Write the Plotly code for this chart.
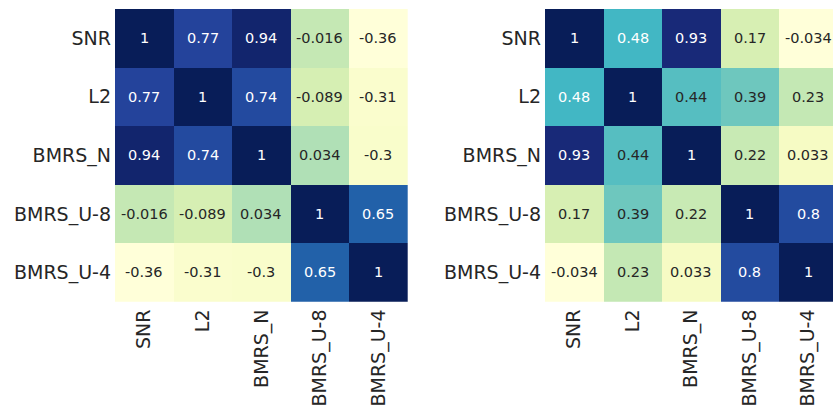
import plotly.graph_objects as go

labels = ["SNR", "L2", "BMRS_N", "BMRS_U-8", "BMRS_U-4"]

left_values = [
    [1, 0.77, 0.94, -0.016, -0.36],
    [0.77, 1, 0.74, -0.089, -0.31],
    [0.94, 0.74, 1, 0.034, -0.3],
    [-0.016, -0.089, 0.034, 1, 0.65],
    [-0.36, -0.31, -0.3, 0.65, 1],
]
right_values = [
    [1, 0.48, 0.93, 0.17, -0.034],
    [0.48, 1, 0.44, 0.39, 0.23],
    [0.93, 0.44, 1, 0.22, 0.033],
    [0.17, 0.39, 0.22, 1, 0.8],
    [-0.034, 0.23, 0.033, 0.8, 1],
]

ylgnbu = ["#ffffd9", "#edf8b1", "#c7e9b4", "#7fcdbb", "#41b6c4",
          "#1d91c0", "#225ea8", "#253494", "#081d58"]
colorscale = [[i / 8, c] for i, c in enumerate(ylgnbu)]


def hex2rgb(h):
    return tuple(int(h[i:i + 2], 16) for i in (1, 3, 5))


def color_at(t):
    t = min(max(t, 0), 1) * 8
    i = min(int(t), 7)
    f = t - i
    a, b = hex2rgb(ylgnbu[i]), hex2rgb(ylgnbu[i + 1])
    return [a[k] + (b[k] - a[k]) * f for k in range(3)]


def lum(rgb):
    out = []
    for c in rgb:
        c = c / 255
        out.append(c / 12.92 if c <= 0.03928 else ((c + 0.055) / 1.055) ** 2.4)
    return 0.2126 * out[0] + 0.7152 * out[1] + 0.0722 * out[2]


def fmt(v):
    return "{:.2g}".format(v)


fig = go.Figure()
annotations = []
W, H = 833, 407
top = 9
bottom = 301.7
panels = [
    (left_values, "x", "y", 115, 407.7, 4.5),
    (right_values, "x2", "y2", 545, 833, 4.5 - (837.5 - 833) / 58.5),
]
for vals, xa, ya, x0, x1, xend in panels:
    flat = [v for r in vals for v in r]
    zmin, zmax = min(flat), max(flat)
    fig.add_trace(go.Heatmap(
        z=vals, x=labels, y=labels, colorscale=colorscale,
        zmin=zmin, zmax=zmax, showscale=False, xaxis=xa, yaxis=ya,
        hoverinfo="skip"))
    for i, row in enumerate(vals):
        for j, v in enumerate(row):
            c = color_at((v - zmin) / (zmax - zmin))
            tc = "#262626" if lum(c) > 0.408 else "white"
            annotations.append(dict(
                x=labels[j], y=labels[i], xref=xa, yref=ya, text=fmt(v),
                showarrow=False, font=dict(size=14.5, color=tc,
                                           family="DejaVu Sans")))

tickfont = dict(size=19, color="#262626", family="DejaVu Sans")
common_x = dict(tickangle=-90, ticks="", ticklabelstandoff=3,
                tickfont=tickfont,
                showgrid=False, zeroline=False, showline=False)
common_y = dict(autorange="reversed", ticks="", ticklabelstandoff=3,
                tickfont=tickfont,
                showgrid=False, zeroline=False, showline=False)

yd = [1 - bottom / H, 1 - top / H]
fig.update_layout(
    width=W, height=H, margin=dict(l=0, r=0, t=0, b=0),
    paper_bgcolor="white", plot_bgcolor="white",
    font=dict(family="DejaVu Sans"),
    xaxis=dict(domain=[115 / W, 407.7 / W], anchor="y",
               range=[-0.5, 4.5], **common_x),
    yaxis=dict(domain=yd, anchor="x", **common_y),
    xaxis2=dict(domain=[545 / W, 1.0], anchor="y2",
                range=[-0.5, panels[1][5]], **common_x),
    yaxis2=dict(domain=yd, anchor="x2", **common_y),
    annotations=annotations,
)

fig.write_html("out.html",
               config={"displayModeBar": False},
               post_script="document.body.style.margin='0';"
                           "document.body.style.overflow='hidden';")
